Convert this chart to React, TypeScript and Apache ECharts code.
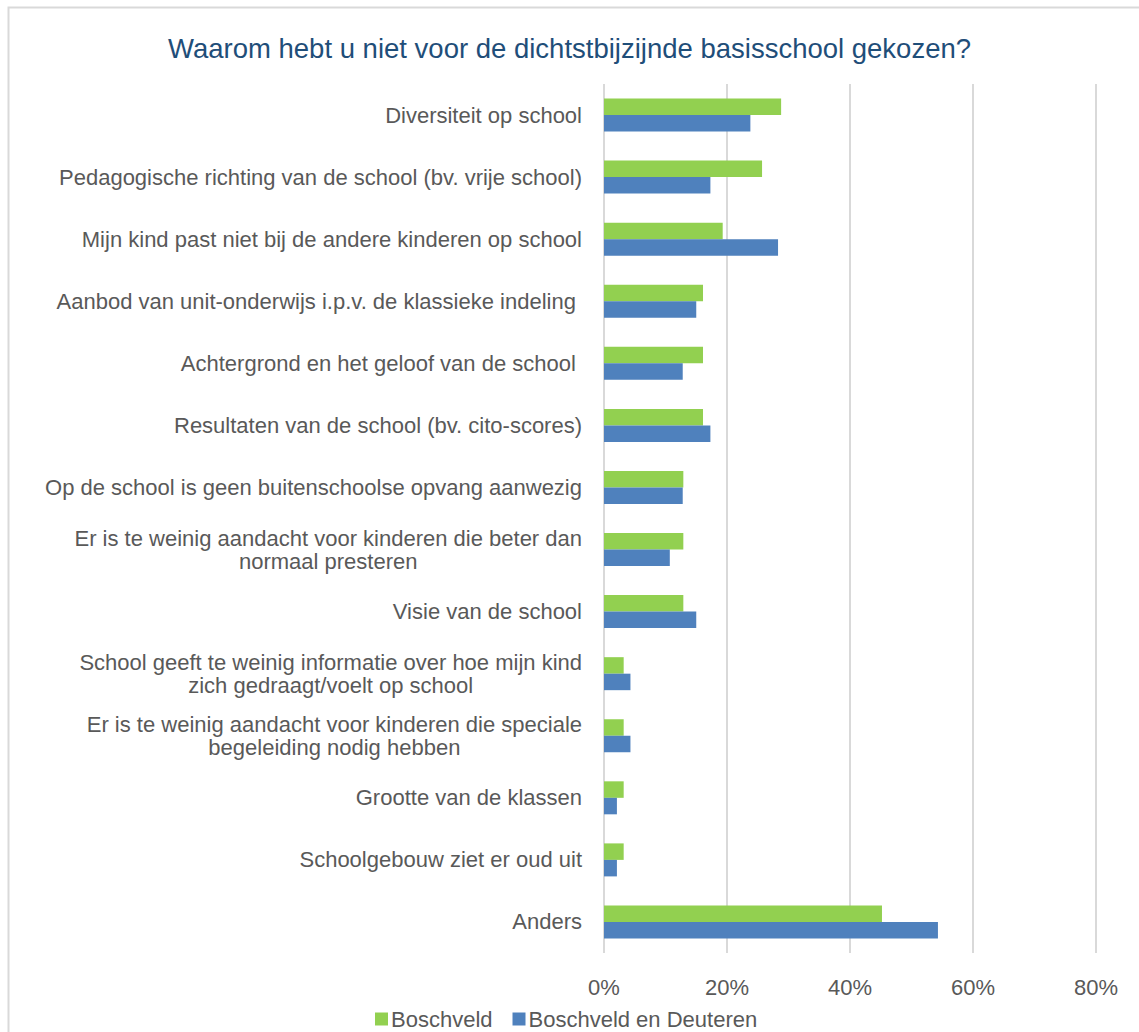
import React, { useEffect, useRef } from "react";
import * as echarts from "echarts";

const titleText = "Waarom hebt u niet voor de dichtstbijzijnde basisschool gekozen?";

const categories: string[] = [
  "Diversiteit op school",
  "Pedagogische richting van de school (bv. vrije school)",
  "Mijn kind past niet bij de andere kinderen op school",
  "Aanbod van unit-onderwijs i.p.v. de klassieke indeling ",
  "Achtergrond en het geloof van de school ",
  "Resultaten van de school (bv. cito-scores)",
  "Op de school is geen buitenschoolse opvang aanwezig",
  "Er is te weinig aandacht voor kinderen die beter dan\nnormaal presteren",
  "Visie van de school",
  "School geeft te weinig informatie over hoe mijn kind\nzich gedraagt/voelt op school",
  "Er is te weinig aandacht voor kinderen die speciale\nbegeleiding nodig hebben",
  "Grootte van de klassen",
  "Schoolgebouw ziet er oud uit",
  "Anders",
];

const seriesNames = ["Boschveld", "Boschveld en Deuteren"];
const boschveld: number[] = [28.8, 25.7, 19.3, 16.1, 16.1, 16.1, 12.9, 12.9, 12.9, 3.2, 3.2, 3.2, 3.2, 45.2];
const boschveldDeuteren: number[] = [23.8, 17.3, 28.3, 15.0, 12.8, 17.3, 12.8, 10.7, 15.0, 4.3, 4.3, 2.1, 2.1, 54.3];
const xTicks = { min: 0, max: 80, interval: 20 };

const FONT = "'Liberation Sans', Arial, sans-serif";
const GREY = "#595959";
const FS = 22;

export default function App() {
  const ref = useRef<HTMLDivElement>(null);
  useEffect(() => {
    if (!ref.current) return;
    const chart = echarts.init(ref.current, undefined, { renderer: "svg" });
    chart.setOption({
      animation: false,
      backgroundColor: "#ffffff",
      textStyle: { fontFamily: FONT },
      title: {
        text: titleText,
        left: "center",
        top: 29,
        textStyle: { fontFamily: FONT, fontSize: 27.5, fontWeight: "normal", color: "#1F4E79" },
      },
      graphic: [
        {
          type: "rect",
          shape: { x: 8.5, y: 7.5, width: 1200, height: 1200 },
          style: { fill: "none", stroke: "#d9d9d9", lineWidth: 2 },
          silent: true,
          z: -1,
        },
      ],
      legend: {
        data: seriesNames,
        left: 370,
        top: 1003,
        itemWidth: 13,
        itemHeight: 13,
        itemGap: 20,
        icon: "rect",
        textStyle: { fontFamily: FONT, fontSize: FS, color: GREY, padding: [0, 0, 0, -2] },
      },
      grid: { left: 604, right: 43, top: 84, bottom: 79, containLabel: false },
      xAxis: {
        type: "value",
        min: xTicks.min,
        max: xTicks.max,
        interval: xTicks.interval,
        axisLine: { show: false },
        axisTick: { show: false },
        splitLine: { show: true, lineStyle: { color: "#d9d9d9", width: 2 } },
        axisLabel: {
          formatter: (v: number) => `${v}%`,
          fontFamily: FONT,
          fontSize: FS,
          color: GREY,
          margin: 23,
        },
      },
      yAxis: {
        type: "category",
        inverse: true,
        data: categories,
        axisLine: { show: false },
        axisTick: { show: false },
        splitLine: { show: false },
        axisLabel: {
          margin: 22,
          fontFamily: FONT,
          fontSize: FS,
          color: GREY,
          lineHeight: 23,
          formatter: (v: string) =>
            v.includes("\n") ? v.split("\n").map((l) => `{c|${l}}`).join("\n") : v,
          rich: {
            c: { align: "center", fontFamily: FONT, fontSize: FS, color: GREY, lineHeight: 23 },
          },
        },
      },
      series: [
        {
          name: seriesNames[0],
          type: "bar",
          data: boschveld,
          barWidth: 16.5,
          barGap: "0%",
          itemStyle: { color: "#92D050" },
        },
        {
          name: seriesNames[1],
          type: "bar",
          data: boschveldDeuteren,
          barWidth: 16.5,
          barGap: "0%",
          itemStyle: { color: "#4F81BD" },
        },
      ],
    });
    return () => chart.dispose();
  }, []);
  return (
    <div
      ref={ref}
      style={{ position: "fixed", left: 0, top: 0, width: 1139, height: 1032 }}
    />
  );
}
